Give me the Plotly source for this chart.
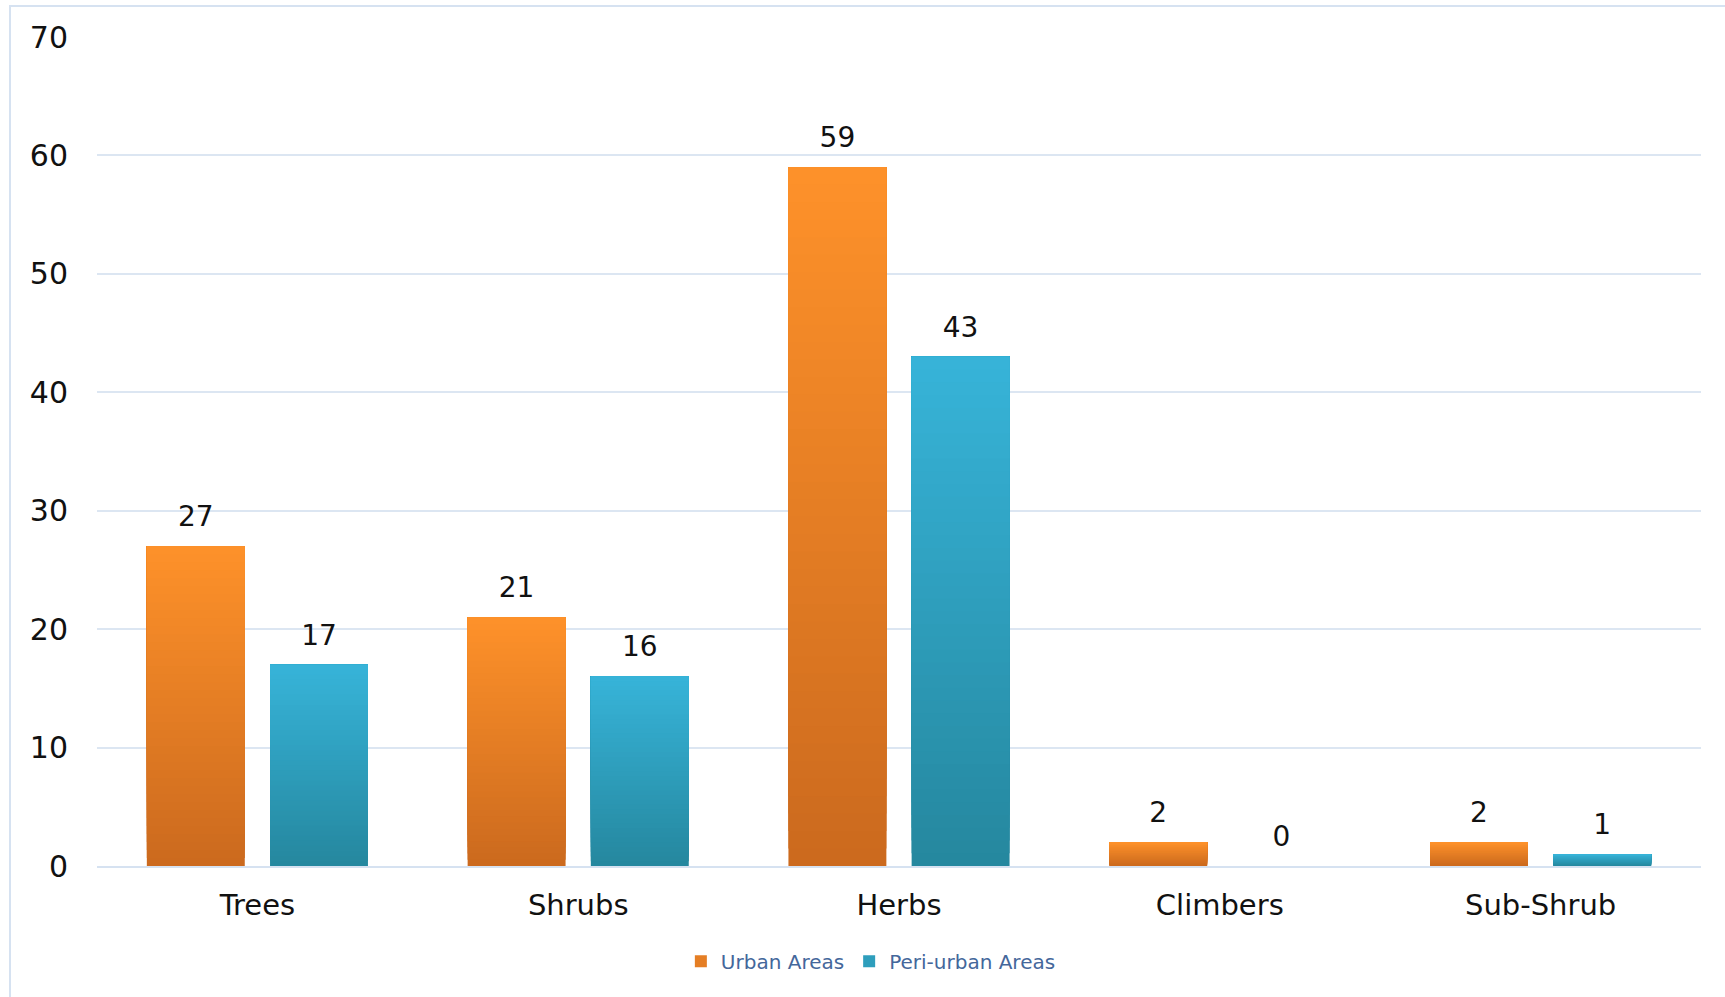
import plotly.graph_objects as go

# Species counts by growth form
categories = ["Trees", "Shrubs", "Herbs", "Climbers", "Sub-Shrub"]
urban = [27, 21, 59, 2, 2]
peri_urban = [17, 16, 43, 0, 1]

series = [
    ("Urban Areas", urban, (254, 145, 42), (203, 106, 30)),
    ("Peri-urban Areas", peri_urban, (55, 180, 217), (37, 135, 158)),
]

FONT = "DejaVu Sans"
N_STEPS = 40      # vertical slices used to shade each bar from top to bottom
LABEL_GAP = 0.85  # clear space (axis units) between a bar's top and its value label


def mix(c_top, c_bot, t):
    r, g, b = (round(c_bot[k] + (c_top[k] - c_bot[k]) * t) for k in range(3))
    return f"rgb({r},{g},{b})"


fig = go.Figure()
for name, values, c_top, c_bot in series:
    # each slice runs from its own start up to the bar's top, so later
    # (lighter) slices cover the earlier ones without seams
    for i in range(N_STEPS):
        t = (i + 0.5) / N_STEPS
        fig.add_trace(go.Bar(
            x=categories,
            y=[v * (N_STEPS - i) / N_STEPS for v in values],
            base=[v * i / N_STEPS for v in values],
            offsetgroup=name,
            name=name,
            legendgroup=name,
            showlegend=(i == N_STEPS // 2),
            marker=dict(color=mix(c_top, c_bot, t), line=dict(width=0)),
            textposition="none",
            hoverinfo="skip" if i else None,
            hovertemplate=f"{name}<br>%{{x}}: %{{customdata}}<extra></extra>",
            customdata=values,
        ))
    # value labels, placed just above each bar's top
    fig.add_trace(go.Bar(
        x=categories,
        y=[LABEL_GAP] * len(values),
        base=values,
        offsetgroup=name,
        name=name,
        legendgroup=name,
        showlegend=False,
        marker=dict(color="rgba(0,0,0,0)", line=dict(width=0)),
        text=[str(v) for v in values],
        textposition="outside",
        textfont=dict(family=FONT, size=28, color="#111111"),
        cliponaxis=False,
        hoverinfo="skip",
    ))

# light frame around the chart area
fig.add_shape(
    type="rect", xref="paper", yref="paper",
    x0=(10 - 97) / 1604, x1=1.05, y0=-0.3, y1=1 + (37 - 6) / 829,
    line=dict(color="#d6e2f1", width=2), fillcolor="rgba(0,0,0,0)", layer="below",
)

fig.update_layout(
    width=1725, height=997,
    margin=dict(l=97, r=24, t=37, b=131),
    paper_bgcolor="white", plot_bgcolor="white",
    barmode="group", bargap=0.232, bargroupgap=0.205,
    font=dict(family=FONT, color="#111111"),
    showlegend=True,
    legend=dict(
        orientation="h", x=0.364, xanchor="left", y=-0.115, yanchor="middle",
        font=dict(family=FONT, size=20, color="#44679b"),
        bgcolor="rgba(0,0,0,0)", itemclick=False,
    ),
    uniformtext=dict(mode=False),
)
fig.update_xaxes(
    type="category", showgrid=False, zeroline=False,
    showline=True, linecolor="#d6e2f1", linewidth=1.5,
    ticks="", ticklabelstandoff=12,
    tickfont=dict(family=FONT, size=29, color="#111111"),
)
fig.update_yaxes(
    range=[0, 70], dtick=10, showgrid=True, gridcolor="#dce6f2", gridwidth=1.5,
    zeroline=False, showline=False, ticks="", ticklabelstandoff=28,
    tickfont=dict(family=FONT, size=30, color="#111111"),
)

fig.write_html("out.html")
